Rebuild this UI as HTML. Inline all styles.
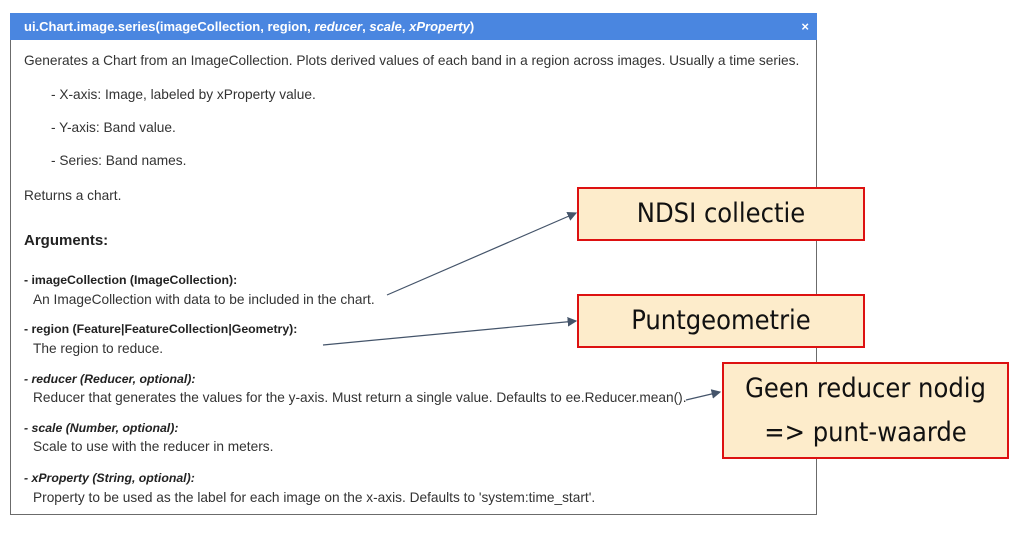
<!DOCTYPE html>
<html><head><style>
body{margin:0;width:1027px;height:536px;background:#fff;position:relative;font-family:"Liberation Sans",sans-serif;overflow:hidden}
.p{position:absolute;left:10px;top:13px;width:807px;height:502px;border:1px solid #6b6b6b;box-sizing:border-box}
.h{position:absolute;left:10px;top:13px;width:807px;height:27px;background:#4a86e0;color:#fff;font-weight:bold;font-size:13px;line-height:27px;padding-left:14px;box-sizing:border-box}
.h .x{position:absolute;right:8px;top:0;font-size:13px}
.t{position:absolute;font-size:13.7px;color:#333;white-space:nowrap;line-height:16px}
.b{font-weight:bold;color:#222}
.box{position:absolute;background:#fdeccb;border:2px solid #d11;box-sizing:border-box;text-align:center;font-family:"Liberation Sans Narrow","DejaVu Sans Condensed",sans-serif;font-size:27px;color:#111}
</style></head><body>
<div class="p"></div>
<div class="h">ui.Chart.image.series(imageCollection, region, <i>reducer</i>, <i>scale</i>, <i>xProperty</i>)<span class="x">×</span></div>
<div class="t" style="left:24px;top:53px">Generates a Chart from an ImageCollection. Plots derived values of each band in a region across images. Usually a time series.</div>
<div class="t" style="left:51px;top:87px">- X-axis: Image, labeled by xProperty value.</div>
<div class="t" style="left:51px;top:120px">- Y-axis: Band value.</div>
<div class="t" style="left:51px;top:153px">- Series: Band names.</div>
<div class="t" style="left:24px;top:188px">Returns a chart.</div>
<div class="t b" style="left:24px;top:233px;font-size:15px">Arguments:</div>
<div class="t b" style="left:24px;top:272px;font-size:12.3px">- imageCollection (ImageCollection):</div>
<div class="t" style="left:33px;top:292px">An ImageCollection with data to be included in the chart.</div>
<div class="t b" style="left:24px;top:321px;font-size:12.3px">- region (Feature|FeatureCollection|Geometry):</div>
<div class="t" style="left:33px;top:341px">The region to reduce.</div>
<div class="t b" style="left:24px;top:371px;font-size:12.3px"><i>- reducer (Reducer, optional):</i></div>
<div class="t" style="left:33px;top:390px">Reducer that generates the values for the y-axis. Must return a single value. Defaults to ee.Reducer.mean().</div>
<div class="t b" style="left:24px;top:420px;font-size:12.3px"><i>- scale (Number, optional):</i></div>
<div class="t" style="left:33px;top:439px">Scale to use with the reducer in meters.</div>
<div class="t b" style="left:24px;top:470px;font-size:12.3px"><i>- xProperty (String, optional):</i></div>
<div class="t" style="left:33px;top:490px">Property to be used as the label for each image on the x-axis. Defaults to 'system:time_start'.</div>
<div class="box" style="left:577px;top:187px;width:288px;height:54px;line-height:50px">NDSI collectie</div>
<div class="box" style="left:577px;top:294px;width:288px;height:54px;line-height:50px">Puntgeometrie</div>
<div class="box" style="left:722px;top:362px;width:287px;height:97px;line-height:44px;padding-top:3px">Geen reducer nodig<br>=&gt; punt-waarde</div>
<svg width="1027" height="536" style="position:absolute;left:0;top:0">
<defs><marker id="a" markerWidth="8" markerHeight="8" refX="7" refY="4" orient="auto"><path d="M0,0 L8,4 L0,8 z" fill="#44546a"/></marker></defs>
<g stroke="#44546a" stroke-width="1.2" marker-end="url(#a)">
<line x1="387" y1="295" x2="576" y2="213"/>
<line x1="323" y1="345" x2="576" y2="321"/>
<line x1="686" y1="400" x2="720" y2="392"/>
</g></svg>
</body></html>
